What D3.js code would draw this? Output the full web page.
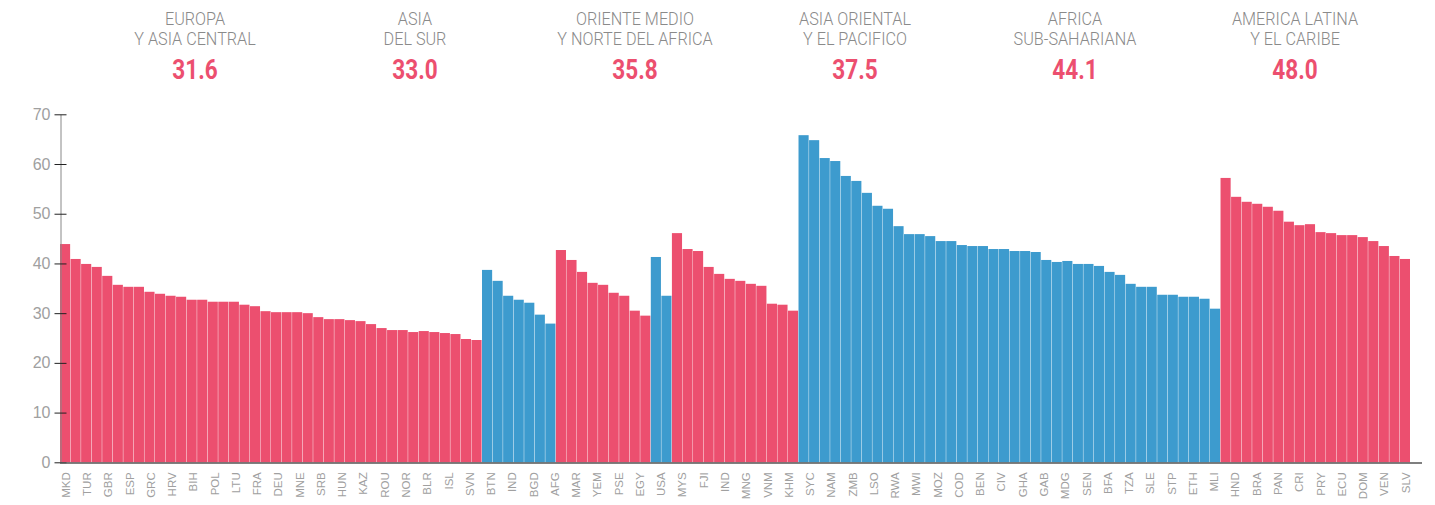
<!DOCTYPE html>
<html lang="es">
<head>
<meta charset="UTF-8">
<title>Desigualdad por región</title>
<script src="https://cdnjs.cloudflare.com/ajax/libs/d3/7.9.0/d3.min.js"></script>
<style>
    body { margin: 0; background: #fff; }
    svg { display: block; font-family: Roboto, "Noto Sans", sans-serif; }
    .region-name { font-weight: 300; font-size: 18px; fill: #8a8a8a; }
    .region-avg { font-weight: 700; font-size: 27px; fill: #ec4f6f; }
    .y-axis text { font-weight: 300; font-size: 16px; fill: #a0a0a0; }
    .x-axis text { font-weight: 300; font-size: 11.5px; fill: #a0a0a0; }
</style>
</head>
<body>
<svg id="chart" width="1435" height="505"></svg>
<script>
// headers
const regionNames = [
    ["EUROPA", "Y ASIA CENTRAL"],
    ["ASIA", "DEL SUR"],
    ["ORIENTE MEDIO", "Y NORTE DEL AFRICA"],
    ["ASIA ORIENTAL", "Y EL PACIFICO"],
    ["AFRICA", "SUB-SAHARIANA"],
    ["AMERICA LATINA", "Y EL CARIBE"]
];
const regionAverages = [31.6, 33.0, 35.8, 37.5, 44.1, 48.0];

// bar values, one array per group, in drawing order
const europe = [43.9, 40.9, 39.9, 39.3, 37.5, 35.7, 35.3, 35.3, 34.3, 33.9, 33.5, 33.3, 32.7, 32.7,
    32.3, 32.3, 32.3, 31.7, 31.4, 30.4, 30.2, 30.2, 30.2, 30.0, 29.2, 28.8, 28.8, 28.6, 28.4, 27.8,
    27.0, 26.6, 26.6, 26.2, 26.4, 26.2, 26.0, 25.8, 24.8, 24.6];
const southAsia = [38.7, 36.5, 33.5, 32.7, 32.1, 29.7, 27.9];
const middleEast = [42.7, 40.7, 38.3, 36.1, 35.7, 34.1, 33.5, 30.5, 29.5];
const northAmerica = [41.3, 33.5];
const eastAsia = [46.1, 42.9, 42.5, 39.3, 37.9, 36.9, 36.5, 35.9, 35.5, 31.9, 31.7, 30.5];
const africa = [65.8, 64.8, 61.2, 60.6, 57.6, 56.6, 54.2, 51.6, 51.0, 47.5, 45.9, 45.9, 45.5, 44.5,
    44.5, 43.7, 43.5, 43.5, 42.9, 42.9, 42.5, 42.5, 42.3, 40.7, 40.3, 40.5, 39.9, 39.9, 39.5, 38.3,
    37.7, 35.9, 35.3, 35.3, 33.7, 33.7, 33.3, 33.3, 32.9, 30.9];
const latinAmerica = [57.2, 53.4, 52.4, 52.0, 51.4, 50.6, 48.4, 47.7, 47.9, 46.3, 46.1, 45.7, 45.7,
    45.3, 44.5, 43.5, 41.5, 40.9];

const groups = [europe, southAsia, middleEast, northAmerica, eastAsia, africa, latinAmerica];
const groupColors = ["#ec4f6f", "#3d9bce"]; // alternate per group

// x tick labels (every other country is labelled)
const tickLabels = ["MKD", "TUR", "GBR", "ESP", "GRC", "HRV", "BIH", "POL", "LTU", "FRA", "DEU", "MNE",
    "SRB", "HUN", "KAZ", "ROU", "NOR", "BLR", "ISL", "SVN",
    "BTN", "IND", "BGD", "AFG",
    "MAR", "YEM", "PSE", "EGY",
    "USA",
    "MYS", "FJI", "IND", "MNG", "VNM", "KHM",
    "SYC", "NAM", "ZMB", "LSO", "RWA", "MWI", "MOZ", "COD", "BEN", "CIV", "GHA", "GAB", "MDG", "SEN",
    "BFA", "TZA", "SLE", "STP", "ETH", "MLI",
    "HND", "BRA", "PAN", "CRI", "PRY", "ECU", "DOM", "VEN", "SLV"];
const yTicks = [0, 10, 20, 30, 40, 50, 60, 70];

const bars = groups.flatMap((g, gi) => g.map(v => ({ value: v, group: gi })));

const svg = d3.select('#chart');

const x = d3.scaleBand()
    .domain(d3.range(bars.length))
    .range([60, 1410])
    .paddingInner(0.04)
    .paddingOuter(0);

const y = d3.scaleLinear()
    .domain([0, 70])
    .range([462.3, 114.3]);

// headers
const hx = d3.scaleBand().domain(d3.range(regionNames.length)).range([85, 1405]);
const header = svg.selectAll('g.header')
    .data(regionNames)
    .enter().append('g')
    .attr('class', 'header')
    .attr('transform', (d, i) => `translate(${hx(i) + hx.bandwidth() / 2},0) scale(0.9,1)`);

header.selectAll('text.region-name')
    .data(d => d)
    .enter().append('text')
    .attr('class', 'region-name')
    .attr('text-anchor', 'middle')
    .attr('y', (d, i) => 25 + i * 20)
    .text(d => d);

header.append('text')
    .attr('class', 'region-avg')
    .attr('text-anchor', 'middle')
    .attr('y', 79)
    .attr('transform', 'scale(0.93,1)')
    .text((d, i) => regionAverages[i].toFixed(1));

// bars
svg.append('g')
    .selectAll('rect')
    .data(bars)
    .enter().append('rect')
    .attr('x', (d, i) => x(i))
    .attr('width', x.bandwidth())
    .attr('y', d => y(d.value))
    .attr('height', d => y(0) - y(d.value))
    .attr('fill', d => groupColors[d.group % 2]);

// y axis
const yAxis = svg.append('g')
    .attr('class', 'y-axis')
    .attr('transform', 'translate(60.5,0)')
    .call(d3.axisLeft(y).tickValues(yTicks).tickSize(6).tickSizeOuter(0).tickPadding(4));
yAxis.select('.domain').attr('stroke', '#888');
yAxis.selectAll('.tick line').attr('x1', -6).attr('x2', 6).attr('stroke', '#222');

// baseline
svg.append('line')
    .attr('x1', 60).attr('x2', 1422)
    .attr('y1', y(0) + 0.8).attr('y2', y(0) + 0.8)
    .attr('stroke', '#555')
    .attr('stroke-width', 1.5);

// x labels, spaced evenly from first to last bar
const lx = d3.scalePoint()
    .domain(d3.range(tickLabels.length))
    .range([x(0) + x.bandwidth() / 2, x(bars.length - 1) + x.bandwidth() / 2]);

const xAxis = svg.append('g')
    .attr('class', 'x-axis')
    .attr('transform', `translate(0,${y(0)})`)
    .call(d3.axisBottom(lx).tickSize(0).tickFormat(i => tickLabels[i]));
xAxis.select('.domain').remove();
xAxis.selectAll('text')
    .attr('transform', 'rotate(-90)')
    .attr('text-anchor', 'end')
    .attr('x', -10)
    .attr('y', 0)
    .attr('dy', '0.36em');
</script>
</body>
</html>
